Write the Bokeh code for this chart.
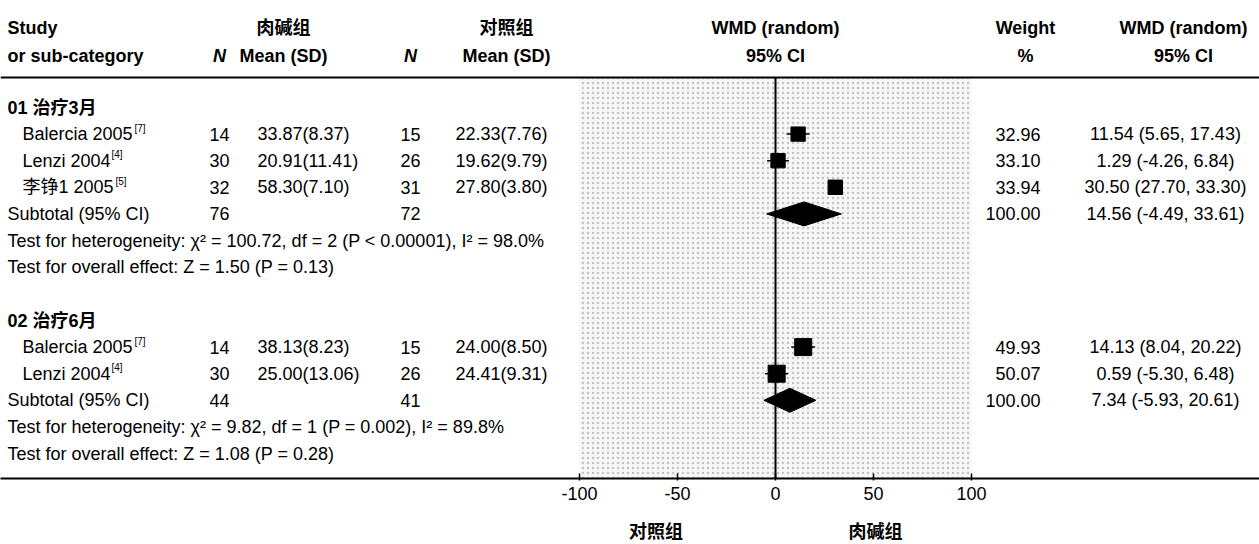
from bokeh.plotting import figure
from bokeh.models import Range1d, LinearAxis, FixedTicker, ColumnDataSource
from bokeh.layouts import column
from bokeh.core.properties import value
from bokeh.embed import file_html
from bokeh.resources import INLINE

# ---------------- data ----------------
group_names = ["01 治疗3月", "02 治疗6月"]
study_group = [0, 0, 0, 1, 1]
study_names = ["Balercia 2005", "Lenzi 2004", "李铮1 2005", "Balercia 2005", "Lenzi 2004"]
study_refs = ["[7]", "[4]", "[5]", "[7]", "[4]"]
n_exp = [14, 30, 32, 14, 30]
mean_exp = [33.87, 20.91, 58.30, 38.13, 25.00]
sd_exp = [8.37, 11.41, 7.10, 8.23, 13.06]
n_ctl = [15, 26, 31, 15, 26]
mean_ctl = [22.33, 19.62, 27.80, 24.00, 24.41]
sd_ctl = [7.76, 9.79, 3.80, 8.50, 9.31]
weight = [32.96, 33.10, 33.94, 49.93, 50.07]
wmd = [11.54, 1.29, 30.50, 14.13, 0.59]
ci_lo = [5.65, -4.26, 27.70, 8.04, -5.30]
ci_hi = [17.43, 6.84, 33.30, 20.22, 6.48]

sub_n_exp = [76, 44]
sub_n_ctl = [72, 41]
sub_weight = [100.00, 100.00]
sub_wmd = [14.56, 7.34]
sub_lo = [-4.49, -5.93]
sub_hi = [33.61, 20.61]
het_chi2 = [100.72, 9.82]
het_df = [2, 1]
het_p = ["< 0.00001", "= 0.002"]
het_i2 = [98.0, 89.8]
eff_z = [1.50, 1.08]
eff_p = [0.13, 0.28]

axis_ticks = [-100, -50, 0, 50, 100]
left_label = "对照组"
right_label = "肉碱组"

# ---------------- layout ----------------
W, H = 1259, 544
AXIS_Y = 478
MAIN_H = 512
TOP_RULE_Y = 77
ROW_H = 26.6
group_top = [107, 320]
PX_PER_UNIT = 1.96
X_M100 = 579  # pixel of -100

FONT = "'Liberation Sans', 'Noto Sans CJK SC', sans-serif"
FS = "18px"
FSB = "18px"

wmd_range = Range1d(-100 - X_M100 / PX_PER_UNIT, -100 + (W - X_M100) / PX_PER_UNIT)

p = figure(width=W, height=MAIN_H, x_range=Range1d(0, W), y_range=Range1d(AXIS_Y, 0),
           output_backend="svg", toolbar_location=None, min_border_left=0,
           min_border_right=0, min_border_top=0, min_border_bottom=MAIN_H - AXIS_Y,
           outline_line_color=None, background_fill_color="white", border_fill_color="white")
p.xaxis.visible = False
p.yaxis.visible = False
p.xgrid.visible = False
p.ygrid.visible = False
p.extra_x_ranges = {"wmd": wmd_range}

# row positions
study_y, sub_y, het_y, eff_y, head_y = [], [], [], [], []
counts = [study_group.count(0), study_group.count(1)]
for g in range(2):
    y0 = group_top[g]
    head_y.append(y0)
    for i in range(counts[g]):
        study_y.append(y0 + ROW_H * (i + 1))
    sub_y.append(y0 + ROW_H * (counts[g] + 1))
    het_y.append(y0 + ROW_H * (counts[g] + 2))
    eff_y.append(y0 + ROW_H * (counts[g] + 3))

# shaded plot area
p.quad(left=[-100], right=[100], top=[TOP_RULE_Y], bottom=[AXIS_Y], x_range_name="wmd",
       fill_color="#f7f7f7", line_color=None, hatch_pattern=".", hatch_color="#c4c4c4",
       hatch_scale=5, hatch_weight=1)

# top rule
p.segment(x0=[0], x1=[W], y0=[TOP_RULE_Y], y1=[TOP_RULE_Y], line_color="black", line_width=2)
# zero line
p.segment(x0=[0], x1=[0], y0=[TOP_RULE_Y], y1=[AXIS_Y], x_range_name="wmd",
          line_color="black", line_width=2)

# axis
ax = LinearAxis(x_range_name="wmd", ticker=FixedTicker(ticks=axis_ticks),
                major_tick_in=5, major_tick_out=2, minor_tick_line_color=None,
                axis_line_width=2, major_tick_line_width=1.5,
                major_label_text_font=FONT, major_label_text_font_size=FS,
                major_label_text_color="black",
                major_label_overrides={t: str(t) for t in axis_ticks},
                major_label_standoff=6)
p.add_layout(ax, "below")

def txt(fig, x, y, t, align="left", bold=False, italic=False, size=FS, range_name=None):
    kw = {}
    if range_name:
        kw["x_range_name"] = range_name
    style = "bold" if bold else "normal"
    if italic:
        style = "bold italic" if bold else "italic"
    fig.text(x=x, y=y, text=t, text_align=align, text_baseline="middle",
             text_font=value(FONT), text_font_size=size, text_font_style=style,
             text_color="black", **kw)

# headers
txt(p, [7], [27], ["Study"], bold=True, size=FSB)
txt(p, [7], [55], ["or sub-category"], bold=True, size=FSB)
txt(p, [219, 410], [55, 55], ["N", "N"], align="center", bold=True, italic=True, size=FSB)
txt(p, [283, 506], [27, 27], ["肉碱组", "对照组"], align="center", bold=True, size=FSB)
txt(p, [283, 506], [55, 55], ["Mean (SD)", "Mean (SD)"], align="center", bold=True, size=FSB)
txt(p, [0], [27], ["WMD (random)"], align="center", bold=True, size=FSB, range_name="wmd")
txt(p, [0], [55], ["95% CI"], align="center", bold=True, size=FSB, range_name="wmd")
txt(p, [1025, 1025], [27, 55], ["Weight", "%"], align="center", bold=True, size=FSB)
txt(p, [1183, 1183], [27, 55], ["WMD (random)", "95% CI"], align="center", bold=True, size=FSB)

# group headers
txt(p, [7, 7], head_y, group_names, bold=True)

# study rows
ref_x = [134, 111, 115, 134, 111]
txt(p, [22] * len(study_names), study_y, study_names)
p.text(x=ref_x, y=[y - 6 for y in study_y], text=study_refs, text_align="left",
       text_baseline="middle", text_font=value(FONT), text_font_size="10px")
txt(p, [219] * 5, study_y, [str(n) for n in n_exp], align="center")
txt(p, [257] * 5, study_y, [f"{m:.2f}({s:.2f})" for m, s in zip(mean_exp, sd_exp)])
txt(p, [410] * 5, study_y, [str(n) for n in n_ctl], align="center")
txt(p, [455] * 5, study_y, [f"{m:.2f}({s:.2f})" for m, s in zip(mean_ctl, sd_ctl)])
txt(p, [1040] * 5, study_y, [f"{w:.2f}" for w in weight], align="right")
txt(p, [1165] * 5, study_y, [f"{e:.2f} ({l:.2f}, {h:.2f})" for e, l, h in zip(wmd, ci_lo, ci_hi)],
    align="center")

# subtotal rows
txt(p, [7, 7], sub_y, ["Subtotal (95% CI)"] * 2)
txt(p, [219, 219], sub_y, [str(n) for n in sub_n_exp], align="center")
txt(p, [410, 410], sub_y, [str(n) for n in sub_n_ctl], align="center")
txt(p, [1040, 1040], sub_y, [f"{w:.2f}" for w in sub_weight], align="right")
txt(p, [1165, 1165], sub_y, [f"{e:.2f} ({l:.2f}, {h:.2f})" for e, l, h in zip(sub_wmd, sub_lo, sub_hi)],
    align="center")
txt(p, [7, 7], het_y, [f"Test for heterogeneity: χ² = {c:.2f}, df = {d} (P {pp}), I² = {i:.1f}%"
                       for c, d, pp, i in zip(het_chi2, het_df, het_p, het_i2)])
txt(p, [7, 7], eff_y, [f"Test for overall effect: Z = {z:.2f} (P = {pz:.2f})"
                       for z, pz in zip(eff_z, eff_p)])

# forest marks
src = ColumnDataSource(dict(x=wmd, lo=ci_lo, hi=ci_hi, y=study_y,
                            size=[9 + w * 0.16 for w in weight]))
p.segment(x0="lo", x1="hi", y0="y", y1="y", source=src, x_range_name="wmd",
          line_color="black", line_width=1.5)
p.scatter(x="x", y="y", size="size", marker="square", source=src, x_range_name="wmd",
          fill_color="black", line_color="black")

DH = 12
xs = [[l, e, h, e] for l, e, h in zip(sub_lo, sub_wmd, sub_hi)]
ys = [[y, y - DH, y, y + DH] for y in sub_y]
p.patches(xs=xs, ys=ys, x_range_name="wmd", fill_color="black", line_color="black")

# favours labels (strip below the axis)
q = figure(width=W, height=H - MAIN_H, x_range=wmd_range, y_range=Range1d(H, MAIN_H),
           output_backend="svg", toolbar_location=None, min_border_left=0,
           min_border_right=0, min_border_top=0, min_border_bottom=0,
           outline_line_color=None, background_fill_color="white", border_fill_color="white")
q.xaxis.visible = False
q.yaxis.visible = False
q.xgrid.visible = False
q.ygrid.visible = False
txt(q, [-61, 51], [531, 531], [left_label, right_label], align="center", bold=True, size=FSB)

layout = column(p, q, spacing=0)
open("out.html", "w").write(file_html(layout, INLINE))
